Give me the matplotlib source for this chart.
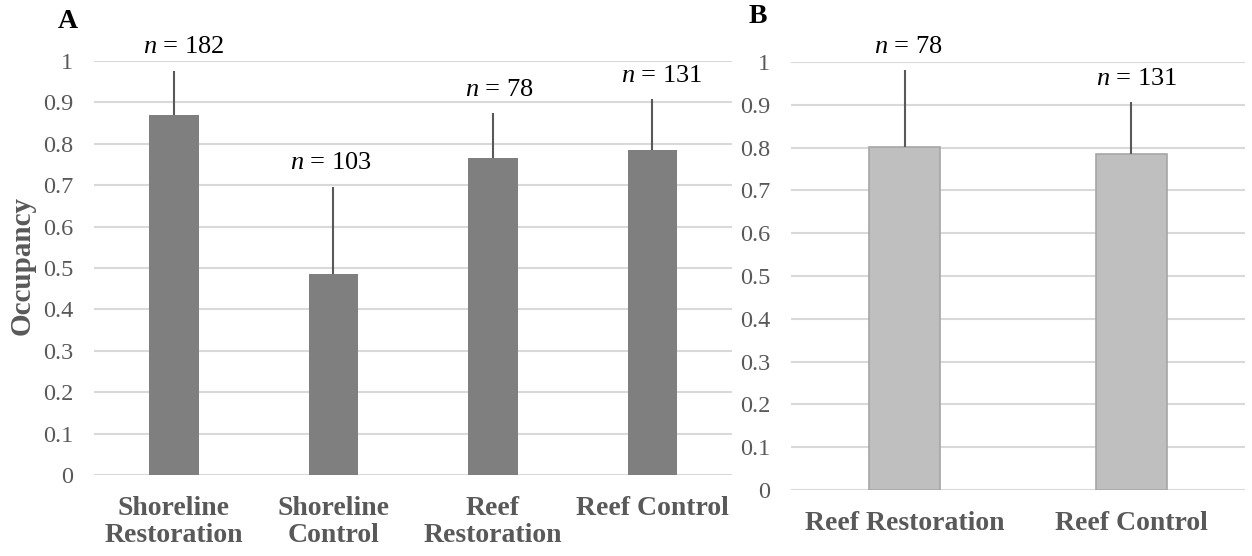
import numpy as np
import matplotlib.pyplot as plt

# panel A
cats_a = ['Shoreline\nRestoration', 'Shoreline\nControl', 'Reef\nRestoration', 'Reef Control']
occ_a = [0.870, 0.485, 0.766, 0.785]
err_a = [0.106, 0.211, 0.108, 0.123]
n_a = [182, 103, 78, 131]

# panel B
cats_b = ['Reef Restoration', 'Reef Control']
occ_b = [0.801, 0.785]
err_b = [0.180, 0.121]
n_b = [78, 131]

plt.rcParams['font.family'] = ['Liberation Serif', 'DejaVu Serif']
plt.rcParams['mathtext.fontset'] = 'custom'
plt.rcParams['mathtext.it'] = 'Liberation Serif:italic'
plt.rcParams['mathtext.rm'] = 'Liberation Serif'
gray_txt = '#595959'
grid_c = '#d9d9d9'

fig = plt.figure(figsize=(12.52, 5.56), dpi=100)
ax_a = fig.add_axes([0.0751, 0.1457, 0.5096, 0.7446])
ax_b = fig.add_axes([0.6318, 0.1187, 0.3626, 0.7698])


def draw_panel(ax, cats, occ, err, ns, color, edge, width, offsets):
    x = np.arange(len(cats))
    ax.bar(x, occ, width=width, color=color, edgecolor=edge, linewidth=1.2 if edge != 'none' else 0, zorder=2)
    ax.errorbar(x, occ, yerr=[np.zeros(len(err)), err], fmt='none', ecolor='#595959',
                elinewidth=1.5, capsize=0, zorder=3)
    for xi, o, e, n, off in zip(x, occ, err, ns, offsets):
        ax.annotate(f'$n$ = {n}', (xi, o + e), xytext=(off, 9), textcoords='offset points',
                    ha='center', va='bottom', fontsize=19, color='black', annotation_clip=False)
    ax.set_ylim(0, 1)
    ax.set_xlim(-0.5, len(cats) - 0.5)
    ax.set_yticks(np.arange(0, 1.01, 0.1))
    ax.set_yticklabels(['0', '0.1', '0.2', '0.3', '0.4', '0.5', '0.6', '0.7', '0.8', '0.9', '1'])
    ax.set_xticks(x)
    ax.set_xticklabels(cats, fontweight='bold', fontsize=20, color=gray_txt, linespacing=1.1)
    ax.tick_params(axis='y', length=0, labelsize=17.5, labelcolor=gray_txt, pad=15)
    ax.tick_params(axis='x', length=0, pad=15)
    ax.grid(axis='y', color=grid_c, linewidth=1.5, zorder=0)
    ax.set_axisbelow(True)
    for s in ax.spines.values():
        s.set_visible(False)


draw_panel(ax_a, cats_a, occ_a, err_a, n_a, '#7f7f7f', 'none', 0.31, [7, -2, 5, 7])
draw_panel(ax_b, cats_b, occ_b, err_b, n_b, '#bfbfbf', '#a6a6a6', 0.317, [3, 4])

ax_a.set_ylabel('Occupancy', fontweight='bold', fontsize=21, color=gray_txt)
ax_a.yaxis.set_label_coords(-0.091, 0.507)

fig.text(0.0543, 0.962, 'A', fontweight='bold', fontsize=20, ha='center', va='center')
fig.text(0.6055, 0.970, 'B', fontweight='bold', fontsize=20, ha='center', va='center')

fig.savefig('out.png', dpi=100)
